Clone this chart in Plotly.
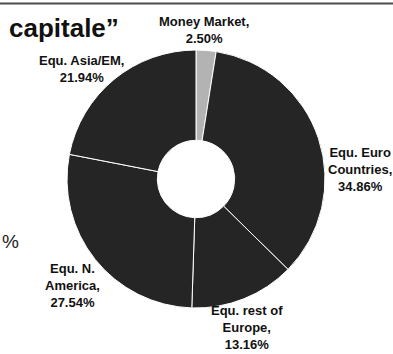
import plotly.graph_objects as go

# Asset allocation data
categories = ["Money Market", "Equ. Euro Countries", "Equ. rest of Europe",
              "Equ. N. America", "Equ. Asia/EM"]
label_lines = ["Money Market", "Equ. Euro<br>Countries", "Equ. rest of<br>Europe",
               "Equ. N.<br>America", "Equ. Asia/EM"]
weights = [2.50, 34.86, 13.16, 27.54, 21.94]
colors = ["#b3b3b3", "#252525", "#252525", "#252525", "#252525"]

# Label anchor points (pixels from top-left) for each slice's callout
label_pos = [(204, 30), (360, 169), (247, 327), (72, 285), (81, 69)]

W, H = 393, 354
FONT = "Liberation Sans, Arial, sans-serif"

fig = go.Figure(
    go.Pie(
        labels=categories,
        values=weights,
        textinfo="none",
        hoverinfo="label+percent",
        marker=dict(colors=colors, line=dict(color="#ffffff", width=1)),
        hole=0.30,
        sort=False,
        direction="clockwise",
        rotation=0,
        showlegend=False,
        domain=dict(x=[67 / W, 325 / W], y=[1 - 308 / H, 1 - 50 / H]),
    )
)

# Slice callouts: name and share
for name, val, (px, py) in zip(label_lines, weights, label_pos):
    fig.add_annotation(
        text=f"{name},<br>{val:.2f}%",
        x=px / W, y=1 - py / H, xref="paper", yref="paper",
        xanchor="center", yanchor="middle", align="center", showarrow=False,
        font=dict(family=FONT, size=13, color="#111111", weight="bold"),
    )

# Title fragment and side text
fig.add_annotation(text="capitale\u201d", x=7 / W, y=1 - 28 / H, xref="paper", yref="paper",
                   xanchor="left", yanchor="middle", showarrow=False,
                   font=dict(family=FONT, size=26, color="#111111", weight="bold"))
fig.add_annotation(text="%", x=0, y=1 - 241 / H, xref="paper", yref="paper",
                   xanchor="left", yanchor="middle", showarrow=False,
                   font=dict(family=FONT, size=19, color="#222222"))

# Rule along the top edge
fig.add_shape(type="line", xref="paper", yref="paper", x0=0, x1=1,
              y0=1 - 3.5 / H, y1=1 - 3.5 / H, line=dict(color="#4d4d4d", width=2))

fig.update_layout(
    width=W, height=H,
    margin=dict(l=0, r=0, t=0, b=0),
    paper_bgcolor="#ffffff",
    plot_bgcolor="#ffffff",
)

fig.write_html("out.html")
